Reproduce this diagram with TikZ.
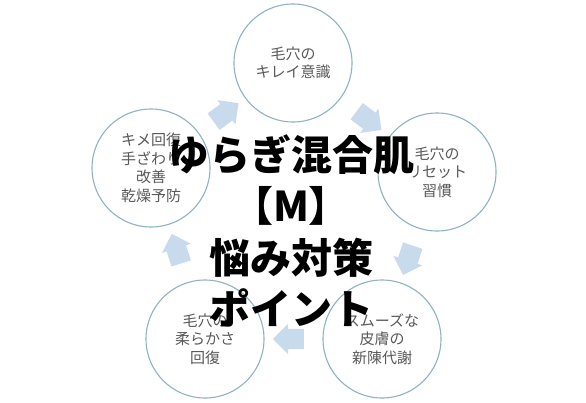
\documentclass[tikz,border=0pt]{standalone}
\usepackage{fontspec}
\usetikzlibrary{shapes.arrows}
\newfontfamily\cjk{Noto Sans CJK JP}
\definecolor{ringc}{RGB}{143,179,192}
\definecolor{txtgray}{RGB}{89,89,89}
\definecolor{arrowc}{RGB}{200,219,236}
\tikzset{
  ring/.style={circle, draw=ringc, line width=1.1pt, minimum size=118pt, inner sep=0pt,
    align=center, text=txtgray, font=\cjk\fontsize{15}{18.5}\selectfont},
  flowarrow/.style={midway, sloped, allow upside down, single arrow, fill=arrowc, draw=none,
    minimum height=31pt, inner sep=10pt, single arrow head extend=5pt, single arrow tip angle=90},
  titletext/.style={align=center, text=black, font=\cjk\bfseries\fontsize{41}{51.5}\selectfont}
}
\begin{document}
\begin{tikzpicture}[x=1pt,y=-1pt]
\fill[white] (0,0) rectangle (586,402);
\useasboundingbox (0,0) rectangle (586,402);
\node[ring] (top) at (293,63) {毛穴の\\キレイ意識};
\node[ring] (right) at (437,172) {毛穴の\\リセット\\習慣};
\node[ring] (br) at (382,339) {スムーズな\\皮膚の\\新陳代謝};
\node[ring] (bl) at (205,339) {毛穴の\\柔らかさ\\回復};
\node[ring] (left) at (151,168) {キメ回復\\手ざわり\\改善\\乾燥予防};
\path (top.center) -- (right.center) node[flowarrow] (a1) {};
\path (right.center) -- (br.center) node[flowarrow] (a2) {};
\path (br.center) -- (bl.center) node[flowarrow] (a3) {};
\path (bl.center) -- (left.center) node[flowarrow] (a4) {};
\path (left.center) -- (top.center) node[flowarrow] (a5) {};
\node[titletext] (title) at (291,231) {ゆらぎ混合肌\\【M】\\悩み対策\\ポイント};
\end{tikzpicture}
\end{document}
